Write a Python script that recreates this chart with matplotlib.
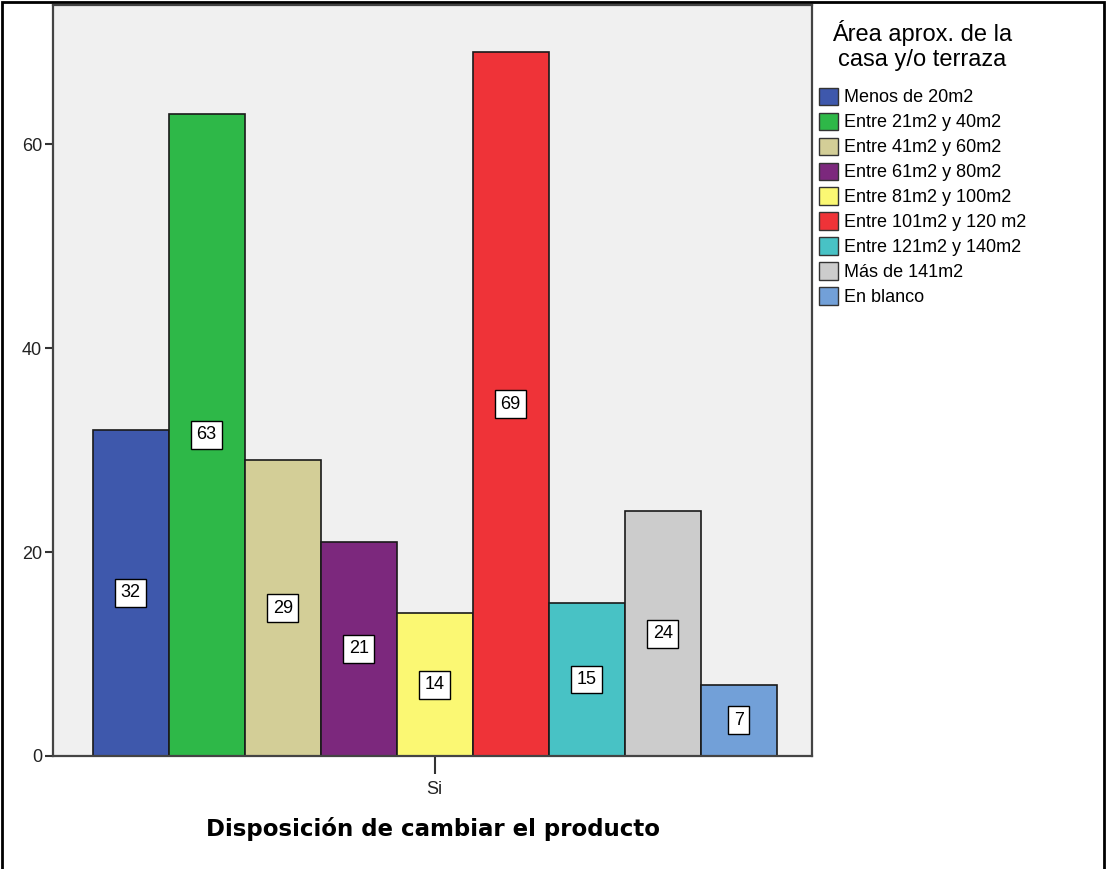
import matplotlib
matplotlib.use("Agg")
from matplotlib import pyplot as plt
from matplotlib.patches import Patch, Rectangle
import numpy as np

# ------------------------------- #
# Data
# ------------------------------- #
categories = ["Menos de 20m2", "Entre 21m2 y 40m2", "Entre 41m2 y 60m2",
              "Entre 61m2 y 80m2", "Entre 81m2 y 100m2", "Entre 101m2 y 120 m2",
              "Entre 121m2 y 140m2", "Más de 141m2", "En blanco"]
counts = [32, 63, 29, 21, 14, 69, 15, 24, 7]
colors = ["#3E58AC", "#2EB848", "#D3CE97", "#7C287D", "#FBF873",
          "#EF3338", "#48C2C5", "#CCCCCC", "#72A0D8"]
y_ticks = [0, 20, 40, 60]
group_label = "Si"
legend_title = "Área aprox. de la\ncasa y/o terraza"
x_title = "Disposición de cambiar el producto"

plt.rcParams['font.family'] = ['Liberation Sans', 'DejaVu Sans']

fig = plt.figure(figsize=(11.06, 8.69), dpi=100)
ax = fig.add_axes([53 / 1106, 1 - 756 / 869, (812 - 53) / 1106, (756 - 4.5) / 869])
ax.set_facecolor("#F0F0F0")

# Bars side by side, one per category
x = np.arange(len(counts))
bars = ax.bar(x, counts, width=1.0, align="edge", color=colors,
              edgecolor="#1a1a1a", linewidth=1.2, zorder=2)

# Value boxes in the middle of each bar
for xi, v in zip(x, counts):
    ax.text(xi + 0.5, v / 2, str(v), ha="center", va="center", fontsize=13,
            color="black", zorder=3,
            bbox=dict(boxstyle="square,pad=0.3", facecolor="white",
                      edgecolor="black", linewidth=1.0))

ax.set_xlim(-0.522, len(counts) + 0.464)
ax.set_ylim(0, 73.7)
ax.set_yticks(y_ticks)
ax.set_xticks([len(counts) / 2])
ax.set_xticklabels([group_label])
ax.tick_params(axis="both", labelsize=13, color="#333333", width=1.5,
               labelcolor="#222222")
ax.tick_params(axis="x", length=13, pad=5)
ax.tick_params(axis="y", length=6, pad=2)
for s in ax.spines.values():
    s.set_color("#444444")
    s.set_linewidth(1.6)

ax.set_xlabel(x_title, fontsize=16.5, fontweight="bold", labelpad=14,
              family=["DejaVu Sans"])

# Legend outside on the right
handles = [Patch(facecolor=c, edgecolor="#333333", linewidth=1.0) for c in colors]
leg = fig.legend(handles, categories, loc="upper left",
                 bbox_to_anchor=(815 / 1106, 1 - 16 / 869), frameon=False,
                 fontsize=13, title=legend_title, title_fontsize=17,
                 handlelength=1.1, handleheight=1.1, handletextpad=0.3,
                 labelspacing=0.34, borderaxespad=0, borderpad=0.2)
leg.get_title().set_multialignment("center")
leg._legend_box.sep = 12

# Outer frame (open at the bottom)
fig.add_artist(Rectangle((1.5 / 1106, -0.05), (1104 - 1.5) / 1106, 1.05 - 1.5 / 869,
                         transform=fig.transFigure, fill=False,
                         edgecolor="black", linewidth=2.0))

fig.savefig("out.png", dpi=100)
